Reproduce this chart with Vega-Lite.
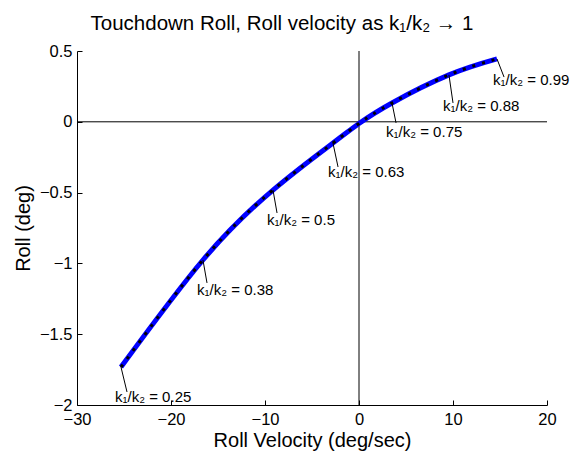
{
  "$schema": "https://vega.github.io/schema/vega-lite/v6.json",
  "width": 470,
  "height": 354,
  "autosize": {"type": "none"},
  "padding": {"left": 77, "top": 51, "right": 24, "bottom": 51},
  "background": "white",
  "config": {
    "view": {"stroke": null},
    "font": "Liberation Sans",
    "axis": {
      "grid": false,
      "domainColor": "black",
      "tickColor": "black",
      "labelColor": "black",
      "titleColor": "black",
      "labelFont": "Liberation Sans",
      "titleFont": "Liberation Sans",
      "labelFontSize": 16.5,
      "titleFontSize": 20,
      "titleFontWeight": "normal",
      "tickSize": -5,
      "labelFlush": false,
      "labelOverlap": false,
      "labelBound": false,
      "format": "~g"
    }
  },
  "title": {
    "text": "Touchdown Roll, Roll velocity as k₁/k₂ → 1",
    "font": "Liberation Sans",
    "fontSize": 20.5,
    "fontWeight": "normal",
    "color": "black",
    "anchor": "middle",
    "baseline": "bottom",
    "offset": -11,
    "dx": -30
  },
  "datasets": {
    "curve": [
      {"vel": -25.32, "roll": -1.732},
      {"vel": -16.6, "roll": -0.976},
      {"vel": -9.15, "roll": -0.482},
      {"vel": -2.77, "roll": -0.15},
      {"vel": 0.0, "roll": -0.012},
      {"vel": 3.51, "roll": 0.133},
      {"vel": 9.57, "roll": 0.331},
      {"vel": 14.68, "roll": 0.444}
    ],
    "labels": [
      {"ratio": "0.25", "vel": -25.32, "roll": -1.732, "lineVel": -24.68, "lineRoll": -1.908, "textVel": -25.96, "textRoll": -1.979},
      {"ratio": "0.38", "vel": -16.6, "roll": -0.976, "lineVel": -16.17, "lineRoll": -1.138, "textVel": -17.23, "textRoll": -1.223},
      {"ratio": "0.5", "vel": -9.15, "roll": -0.482, "lineVel": -8.72, "lineRoll": -0.644, "textVel": -9.79, "textRoll": -0.729},
      {"ratio": "0.63", "vel": -2.77, "roll": -0.15, "lineVel": -2.23, "lineRoll": -0.319, "textVel": -3.3, "textRoll": -0.39},
      {"ratio": "0.75", "vel": 3.51, "roll": 0.133, "lineVel": 3.94, "lineRoll": -0.008, "textVel": 2.87, "textRoll": -0.107},
      {"ratio": "0.88", "vel": 9.57, "roll": 0.331, "lineVel": 10.0, "lineRoll": 0.133, "textVel": 8.94, "textRoll": 0.076},
      {"ratio": "0.99", "vel": 14.68, "roll": 0.444, "lineVel": 15.43, "lineRoll": 0.316, "textVel": 14.26, "textRoll": 0.26}
    ]
  },
  "layer": [
    {
      "data": {"values": [{"v": 0}]},
      "mark": {"type": "rule", "color": "black", "strokeWidth": 1},
      "encoding": {
        "y": {"datum": 0, "type": "quantitative", "scale": {"domain": [-2, 0.5], "nice": false, "zero": false},
          "axis": {"values": [-2, -1.5, -1, -0.5, 0, 0.5], "title": "Roll (deg)", "labelPadding": 10, "titlePadding": 6}}
      }
    },
    {
      "data": {"values": [{"v": 0}]},
      "mark": {"type": "rule", "color": "black", "strokeWidth": 1},
      "encoding": {
        "x": {"datum": 0, "type": "quantitative", "scale": {"domain": [-30, 20], "nice": false, "zero": false},
          "axis": {"values": [-30, -20, -10, 0, 10, 20], "title": "Roll Velocity (deg/sec)", "labelPadding": 11, "titlePadding": 3}}
      }
    },
    {
      "data": {"name": "curve"},
      "mark": {"type": "line", "color": "#0000ff", "strokeWidth": 5, "interpolate": "natural"},
      "encoding": {
        "x": {"field": "vel", "type": "quantitative"},
        "y": {"field": "roll", "type": "quantitative"}
      }
    },
    {
      "data": {"name": "curve"},
      "mark": {"type": "line", "color": "black", "strokeWidth": 3, "strokeDash": [3, 7], "strokeCap": "butt", "interpolate": "natural"},
      "encoding": {
        "x": {"field": "vel", "type": "quantitative"},
        "y": {"field": "roll", "type": "quantitative"}
      }
    },
    {
      "data": {"name": "labels"},
      "mark": {"type": "rule", "color": "black", "strokeWidth": 1},
      "encoding": {
        "x": {"field": "vel", "type": "quantitative"},
        "y": {"field": "roll", "type": "quantitative"},
        "x2": {"field": "lineVel"},
        "y2": {"field": "lineRoll"}
      }
    },
    {
      "data": {"name": "labels"},
      "transform": [{"calculate": "'k₁/k₂ =  ' + datum.ratio", "as": "label"}],
      "mark": {"type": "text", "align": "left", "baseline": "alphabetic", "font": "Liberation Sans", "fontSize": 15, "color": "black"},
      "encoding": {
        "x": {"field": "textVel", "type": "quantitative"},
        "y": {"field": "textRoll", "type": "quantitative"},
        "text": {"field": "label"}
      }
    }
  ]
}
